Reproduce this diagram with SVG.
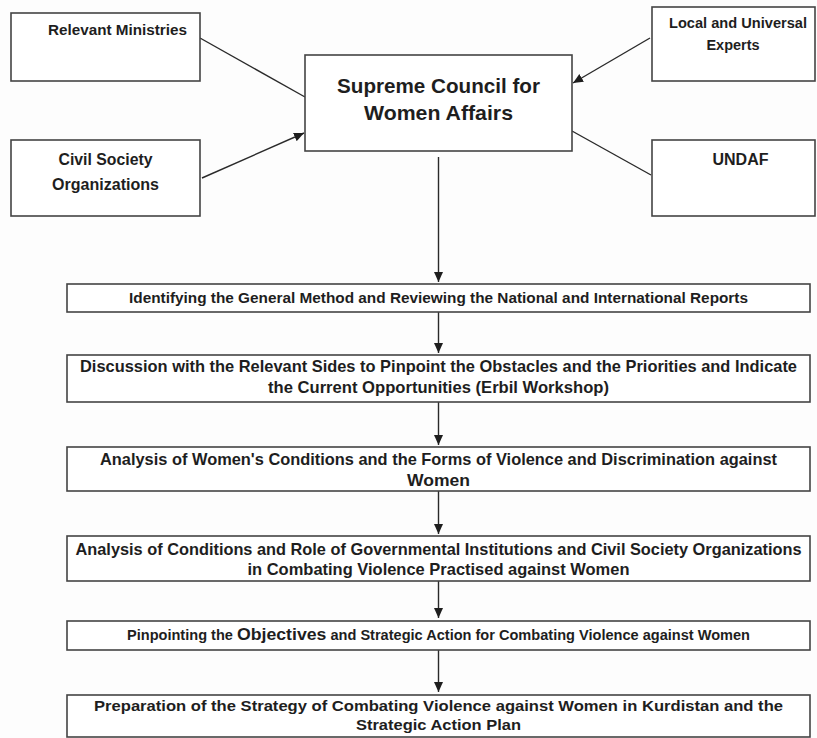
<svg xmlns="http://www.w3.org/2000/svg" width="817" height="738" viewBox="0 0 817 738">
<style>
  .box { fill: #ffffff; stroke: #444444; stroke-width: 1.6; }
  .t { font-family: "Liberation Sans", Arial, sans-serif; font-weight: bold; fill: #1e1e1e; }
  .c { text-anchor: middle; }
  .edge { stroke: #2a2a2a; stroke-width: 1.4; fill: none; }
</style>
<defs>
  <marker id="arrow" markerUnits="userSpaceOnUse" markerWidth="10" markerHeight="11" refX="10" refY="4.5" orient="auto">
    <path d="M0,0 L10,4.5 L0,9 Z" fill="#1e1e1e"/>
  </marker>
</defs>
<rect width="817" height="738" fill="#fdfdfd"/>

<g id="connectors">
  <line class="edge" x1="200" y1="38" x2="305" y2="97"/>
  <line class="edge" x1="202" y1="178" x2="304" y2="133" marker-end="url(#arrow)"/>
  <line class="edge" x1="650" y1="38" x2="573" y2="83" marker-end="url(#arrow)"/>
  <line class="edge" x1="572" y1="131" x2="651" y2="175"/>
  <line class="edge" x1="438.5" y1="157" x2="438.5" y2="282" marker-end="url(#arrow)"/>
  <line class="edge" x1="438.5" y1="312" x2="438.5" y2="353" marker-end="url(#arrow)"/>
  <line class="edge" x1="438.5" y1="402" x2="438.5" y2="445" marker-end="url(#arrow)"/>
  <line class="edge" x1="438.5" y1="491" x2="438.5" y2="534" marker-end="url(#arrow)"/>
  <line class="edge" x1="438.5" y1="581" x2="438.5" y2="618" marker-end="url(#arrow)"/>
  <line class="edge" x1="438.5" y1="650" x2="438.5" y2="692" marker-end="url(#arrow)"/>
</g>

<g id="relevant-ministries">
  <rect class="box" x="11" y="13" width="189" height="68"/>
  <text class="t" x="48" y="35" font-size="14.5" textLength="139" lengthAdjust="spacingAndGlyphs">Relevant Ministries</text>
</g>

<g id="civil-society">
  <rect class="box" x="11" y="140" width="189" height="76"/>
  <text class="t c" x="105.5" y="165" font-size="16.5" textLength="94" lengthAdjust="spacingAndGlyphs">Civil Society</text>
  <text class="t c" x="105.5" y="190" font-size="16.5" textLength="107" lengthAdjust="spacingAndGlyphs">Organizations</text>
</g>

<g id="supreme-council">
  <rect class="box" x="305" y="55" width="267" height="96"/>
  <text class="t c" x="438.5" y="93" font-size="21" textLength="203" lengthAdjust="spacingAndGlyphs">Supreme Council for</text>
  <text class="t c" x="438.5" y="120" font-size="21" textLength="149" lengthAdjust="spacingAndGlyphs">Women Affairs</text>
</g>

<g id="local-experts">
  <rect class="box" x="652" y="7" width="163" height="74"/>
  <text class="t c" x="738" y="28" font-size="14.5" textLength="138" lengthAdjust="spacingAndGlyphs">Local and Universal</text>
  <text class="t c" x="733" y="50" font-size="14.5">Experts</text>
</g>

<g id="undaf">
  <rect class="box" x="652" y="140" width="163" height="76"/>
  <text class="t c" x="740.5" y="165" font-size="16">UNDAF</text>
</g>

<g id="step1">
  <rect class="box" x="67" y="284" width="743" height="28"/>
  <text class="t c" x="438.5" y="303" font-size="14" textLength="619" lengthAdjust="spacingAndGlyphs">Identifying the General Method and Reviewing the National and International Reports</text>
</g>

<g id="step2">
  <rect class="box" x="67" y="355" width="743" height="47"/>
  <text class="t c" x="438.5" y="372" font-size="16.5" textLength="717" lengthAdjust="spacingAndGlyphs">Discussion with the Relevant Sides to Pinpoint the Obstacles and the Priorities and Indicate</text>
  <text class="t c" x="438.5" y="393" font-size="16.5" textLength="341" lengthAdjust="spacingAndGlyphs">the Current Opportunities (Erbil Workshop)</text>
</g>

<g id="step3">
  <rect class="box" x="67" y="447" width="743" height="44"/>
  <text class="t c" x="438.5" y="465" font-size="16.5" textLength="677" lengthAdjust="spacingAndGlyphs">Analysis of Women's Conditions and the Forms of Violence and Discrimination against</text>
  <text class="t c" x="438.5" y="486" font-size="16.5" textLength="63" lengthAdjust="spacingAndGlyphs">Women</text>
</g>

<g id="step4">
  <rect class="box" x="67" y="536" width="743" height="45"/>
  <text class="t c" x="438.5" y="555" font-size="16.5" textLength="726" lengthAdjust="spacingAndGlyphs">Analysis of Conditions and Role of Governmental Institutions and Civil Society Organizations</text>
  <text class="t c" x="438.5" y="575" font-size="16.5" textLength="382" lengthAdjust="spacingAndGlyphs">in Combating Violence Practised against Women</text>
</g>

<g id="step5">
  <rect class="box" x="67" y="621" width="743" height="29"/>
  <text class="t c" x="438.5" y="640" font-size="14" textLength="623" lengthAdjust="spacingAndGlyphs">Pinpointing the <tspan font-size="17">Objectives</tspan> and Strategic Action for Combating Violence against Women</text>
</g>

<g id="step6">
  <rect class="box" x="67" y="695" width="743" height="42"/>
  <text class="t c" x="438.5" y="711" font-size="15.5" textLength="689" lengthAdjust="spacingAndGlyphs">Preparation of the Strategy of Combating Violence against Women in Kurdistan and the</text>
  <text class="t c" x="438.5" y="730" font-size="15.5" textLength="165" lengthAdjust="spacingAndGlyphs">Strategic Action Plan</text>
</g>
</svg>
